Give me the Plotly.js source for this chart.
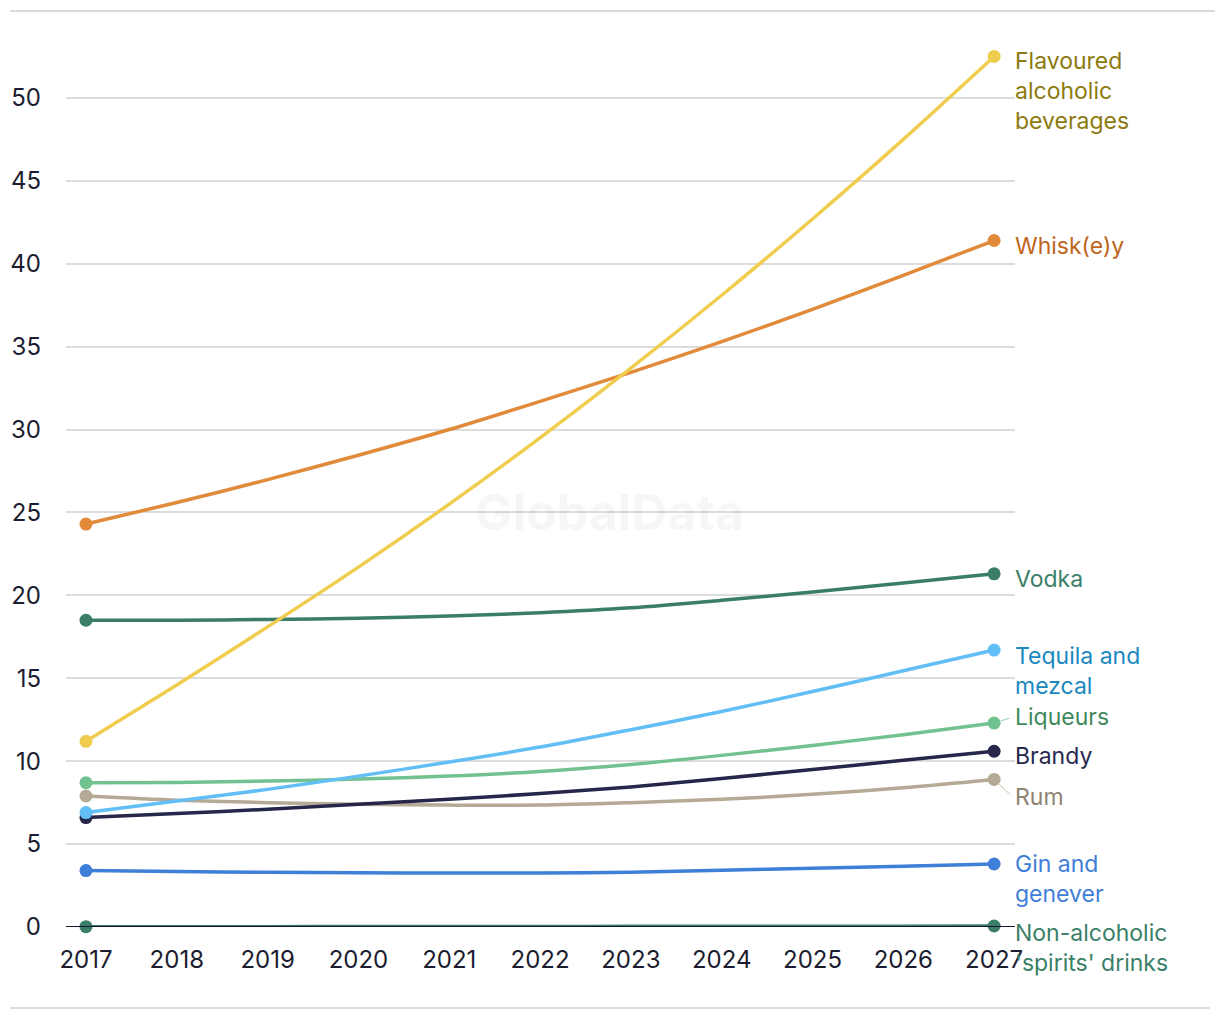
<!DOCTYPE html>
<html>
<head>
<meta charset="utf-8">
<script src="https://cdn.plot.ly/plotly-3.0.1.min.js"></script>
<style>
  html, body { margin: 0; padding: 0; background: #ffffff; }
  #chart { width: 1220px; height: 1020px; }
</style>
</head>
<body>
<div id="chart"></div>
<script>
// ---- Data ----
const years = [2017, 2018, 2019, 2020, 2021, 2022, 2023, 2024, 2025, 2026, 2027];

const seriesNames = [
  "Flavoured alcoholic beverages",
  "Whisk(e)y",
  "Vodka",
  "Tequila and mezcal",
  "Liqueurs",
  "Brandy",
  "Rum",
  "Gin and genever",
  "Non-alcoholic spirits' drinks"
];

const labelTexts = [
  "Flavoured<br>alcoholic<br>beverages",
  "Whisk(e)y",
  "Vodka",
  "Tequila and<br>mezcal",
  "Liqueurs",
  "Brandy",
  "Rum",
  "Gin and<br>genever",
  "Non-alcoholic<br>'spirits' drinks"
];

const flavoured = [11.2, 14.6, 18.1, 21.7, 25.5, 29.5, 33.7, 38.1, 42.7, 47.5, 52.5];
const whiskey   = [24.3, 25.6, 26.98, 28.45, 30.0, 31.7, 33.45, 35.3, 37.25, 39.3, 41.4];
const vodka     = [18.5, 18.5, 18.55, 18.62, 18.75, 18.95, 19.25, 19.7, 20.2, 20.75, 21.3];
const tequila   = [6.9, 7.6, 8.3, 9.1, 9.95, 10.85, 11.9, 13.0, 14.2, 15.45, 16.7];
const liqueurs  = [8.7, 8.72, 8.8, 8.92, 9.1, 9.38, 9.8, 10.35, 10.95, 11.6, 12.3];
const brandy    = [6.6, 6.85, 7.1, 7.4, 7.7, 8.05, 8.45, 8.95, 9.5, 10.05, 10.6];
const rum       = [7.9, 7.65, 7.5, 7.4, 7.35, 7.35, 7.5, 7.7, 8.0, 8.4, 8.9];
const gin       = [3.4, 3.35, 3.3, 3.27, 3.25, 3.26, 3.3, 3.42, 3.55, 3.67, 3.8];
const nonAlc    = [0.02, 0.02, 0.02, 0.03, 0.03, 0.03, 0.04, 0.04, 0.05, 0.05, 0.06];

const yTickVals = [0, 5, 10, 15, 20, 25, 30, 35, 40, 45, 50];

// ---- Styles ----
const allValues  = [flavoured, whiskey, vodka, tequila, liqueurs, brandy, rum, gin, nonAlc];
const lineColors = ["#f0cd4f", "#e08a3a", "#3a7d68", "#62bff5", "#72c291", "#25264a", "#b6a995", "#3e7fd8", "#3a7d68"];
const textColors = ["#8c7a0e", "#c0651c", "#3a7f68", "#1a88bf", "#3f8a5c", "#262850", "#8f8373", "#3f7ed8", "#3a7f68"];
const labelShift = [-35, -5, -5, -21, 6, -5, -18, -15, -22];
const hasLeader  = [false, false, false, false, true, false, true, false, false];
const drawOrder  = [8, 7, 6, 5, 4, 3, 2, 1, 0];

const FONT = "Inter, 'Open Sans', sans-serif";
const LABEL_SIZE = 23;
const TICK_SIZE = 24;
const LABEL_DX = 19;

const traces = drawOrder.map(function (i) {
  const vals = allValues[i];
  const n = vals.length;
  return {
    x: years,
    y: vals,
    name: seriesNames[i],
    type: "scatter",
    mode: "lines+markers",
    line: { color: lineColors[i], width: 3.5, shape: "spline", smoothing: 0.8 },
    marker: {
      color: lineColors[i],
      opacity: 1,
      line: { width: 0 },
      size: vals.map(function (v, k) { return (k === 0 || k === n - 1) ? 13 : 0; })
    },
    cliponaxis: false,
    hoverinfo: "x+y+name"
  };
});

const annotations = allValues.map(function (vals, i) {
  const base = {
    x: years[years.length - 1],
    y: vals[vals.length - 1],
    xref: "x",
    yref: "y",
    text: labelTexts[i],
    xanchor: "left",
    yanchor: "middle",
    align: "left",
    font: { family: FONT, size: LABEL_SIZE, color: textColors[i] }
  };
  if (hasLeader[i]) {
    base.showarrow = true;
    base.arrowhead = 0;
    base.arrowwidth = 0.8;
    base.arrowcolor = lineColors[i];
    base.standoff = 7;
    base.startstandoff = 4;
    base.ax = LABEL_DX;
    base.ay = -labelShift[i];
  } else {
    base.showarrow = false;
    base.xshift = LABEL_DX;
    base.yshift = labelShift[i];
  }
  return base;
});

annotations.push({
  x: 0.573, y: 0.455, xref: "paper", yref: "paper",
  text: "<b>GlobalData</b>", showarrow: false,
  font: { family: FONT, size: 50, color: "rgba(0,0,0,0.035)" }
});

const layout = {
  width: 1220,
  height: 1020,
  margin: { l: 66, r: 205, t: 15, b: 93, pad: 0 },
  paper_bgcolor: "#ffffff",
  plot_bgcolor: "#ffffff",
  showlegend: false,
  font: { family: FONT, size: TICK_SIZE, color: "#1c1c30" },
  xaxis: {
    range: [2016.78, 2027.23],
    tickmode: "array",
    tickvals: years,
    ticktext: years.map(String),
    showgrid: false,
    zeroline: false,
    showline: false,
    ticks: "",
    ticklabelstandoff: 16,
    tickfont: { family: FONT, size: TICK_SIZE, color: "#1c1c30" },
    fixedrange: true
  },
  yaxis: {
    range: [0, 55],
    tickmode: "array",
    tickvals: yTickVals,
    ticktext: yTickVals.map(String),
    showgrid: true,
    gridcolor: "#dcdcdc",
    gridwidth: 2,
    zeroline: false,
    showline: false,
    ticks: "",
    ticklabelstandoff: 24,
    tickfont: { family: FONT, size: TICK_SIZE, color: "#1c1c30" },
    fixedrange: true
  },
  shapes: [
    { type: "line", xref: "paper", yref: "y", x0: 0, x1: 1, y0: 0, y1: 0, layer: "above",
      line: { color: "#16162a", width: 2 } },
    { type: "line", xref: "paper", yref: "paper", x0: -0.059, x1: 1.2107, y0: 1.0044, y1: 1.0044,
      line: { color: "#dadada", width: 2 } },
    { type: "line", xref: "paper", yref: "paper", x0: -0.059, x1: 1.205, y0: -0.0888, y1: -0.0888,
      line: { color: "#dadada", width: 2 } }
  ],
  annotations: annotations
};

Plotly.newPlot("chart", traces, layout, { displayModeBar: false, staticPlot: true });
</script>
</body>
</html>
